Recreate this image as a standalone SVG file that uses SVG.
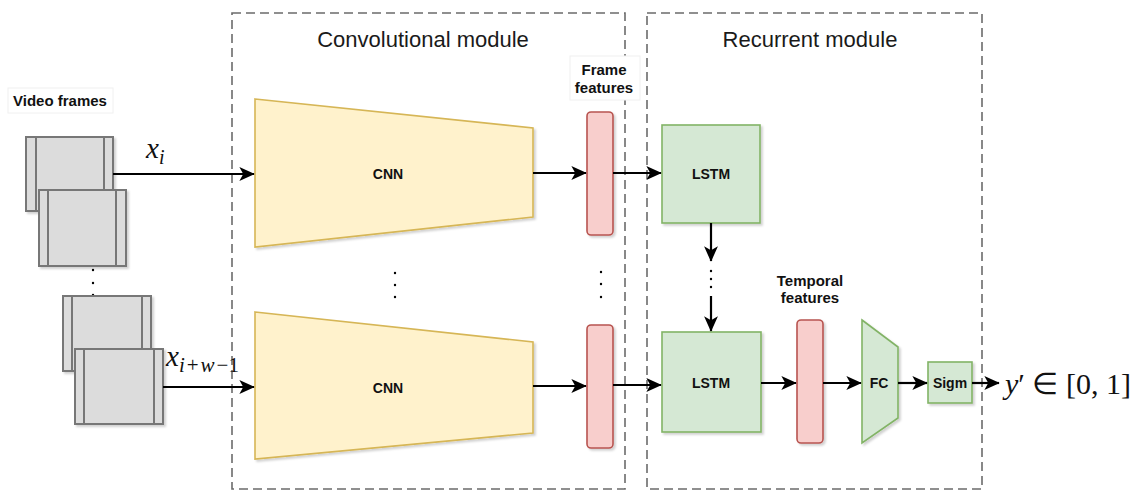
<svg xmlns="http://www.w3.org/2000/svg" width="1141" height="491" viewBox="0 0 1141 491">
  <style>
    .module { fill: none; stroke: #6b6b6b; stroke-width: 1.6; stroke-dasharray: 9 5; }
    .title { font-family: "Liberation Sans", Arial, sans-serif; font-size: 22px; fill: #1a1a1a; text-anchor: middle; }
    .lbl { font-family: "Liberation Sans", Arial, sans-serif; font-size: 14px; font-weight: bold; fill: #111111; text-anchor: middle; }
    .cap { font-family: "Liberation Sans", Arial, sans-serif; font-size: 15px; font-weight: bold; fill: #111111; text-anchor: middle; }
    .lblbg { fill: #ffffff; stroke: #f0f0f0; stroke-width: 1; }
    .frame { fill: #dcdcdc; stroke: #777777; stroke-width: 2; }
    .frameline { stroke: #777777; stroke-width: 2; }
    .cnn { fill: #fff2cc; stroke: #d6b656; stroke-width: 1.6; }
    .feat { fill: #f8cecc; stroke: #b85450; stroke-width: 1.6; }
    .green { fill: #d5e8d4; stroke: #82b366; stroke-width: 1.6; }
    .conn { stroke: #000000; stroke-width: 2.2; fill: none; }
    .dot { fill: #000000; }
    .math { font-family: "Liberation Serif", "Times New Roman", serif; fill: #111111; }
  </style>
  <defs>
    <marker id="arrow" viewBox="0 0 10 10" refX="9.5" refY="5" markerWidth="7" markerHeight="7" orient="auto" markerUnits="strokeWidth">
      <path d="M0,0.5 L10,5 L0,9.5 L2.5,5 z" fill="#000000"/>
    </marker>
    <filter id="shadow" x="-10%" y="-10%" width="130%" height="130%">
      <feDropShadow dx="2" dy="2" stdDeviation="1.2" flood-color="#000000" flood-opacity="0.18"/>
    </filter>
  </defs>

  <rect width="1141" height="491" fill="#ffffff"/>

  <!-- module borders -->
  <g id="convolutional-module">
    <rect class="module" x="232" y="13" width="393" height="476"/>
    <text class="title" x="423" y="47">Convolutional module</text>
  </g>
  <g id="recurrent-module">
    <rect class="module" x="647" y="13" width="335" height="476"/>
    <text class="title" x="810" y="47">Recurrent module</text>
  </g>

  <!-- input frames -->
  <g id="video-frames-label">
    <rect class="lblbg" x="8" y="88" width="105" height="25"/>
    <text class="cap" x="60" y="106">Video frames</text>
  </g>
  <g id="frames-top" filter="url(#shadow)">
    <rect class="frame" x="26" y="137" width="87" height="74"/>
    <line class="frameline" x1="36" y1="137" x2="36" y2="211"/>
    <line class="frameline" x1="104" y1="137" x2="104" y2="211"/>
    <rect class="frame" x="39" y="190" width="87" height="76"/>
    <line class="frameline" x1="48" y1="190" x2="48" y2="266"/>
    <line class="frameline" x1="116" y1="190" x2="116" y2="266"/>
  </g>
  <g id="frames-dots">
    <circle class="dot" cx="93" cy="270" r="1.2"/>
    <circle class="dot" cx="93" cy="283" r="1.2"/>
    <circle class="dot" cx="93" cy="295" r="1.2"/>
  </g>
  <g id="frames-bottom" filter="url(#shadow)">
    <rect class="frame" x="63" y="296" width="88" height="75"/>
    <line class="frameline" x1="72" y1="296" x2="72" y2="371"/>
    <line class="frameline" x1="142" y1="296" x2="142" y2="371"/>
    <rect class="frame" x="75" y="349" width="88" height="75"/>
    <line class="frameline" x1="84" y1="349" x2="84" y2="424"/>
    <line class="frameline" x1="154" y1="349" x2="154" y2="424"/>
  </g>

  <!-- CNN encoders -->
  <g id="cnn-top">
    <polygon class="cnn" filter="url(#shadow)" points="255,99 533,128 533,217 255,247"/>
    <text class="lbl" x="388" y="179">CNN</text>
  </g>
  <g id="cnn-dots">
    <circle class="dot" cx="395" cy="273" r="1.2"/>
    <circle class="dot" cx="395" cy="285" r="1.2"/>
    <circle class="dot" cx="395" cy="297" r="1.2"/>
  </g>
  <g id="cnn-bottom">
    <polygon class="cnn" filter="url(#shadow)" points="255,312 533,342 533,433 255,459"/>
    <text class="lbl" x="388" y="393">CNN</text>
  </g>

  <!-- frame feature vectors -->
  <g id="frame-features-label">
    <rect class="lblbg" x="570" y="56" width="70" height="44"/>
    <text class="cap" x="604" y="75">Frame</text>
    <text class="cap" x="604" y="93">features</text>
  </g>
  <g id="frame-features-top">
    <rect class="feat" filter="url(#shadow)" x="587" y="112" width="26" height="123" rx="4"/>
  </g>
  <g id="feature-dots">
    <circle class="dot" cx="601" cy="272" r="1.2"/>
    <circle class="dot" cx="601" cy="284" r="1.2"/>
    <circle class="dot" cx="601" cy="297" r="1.2"/>
  </g>
  <g id="frame-features-bottom">
    <rect class="feat" filter="url(#shadow)" x="587" y="325" width="26" height="123" rx="4"/>
  </g>

  <!-- recurrent part -->
  <g id="lstm-top">
    <rect class="green" filter="url(#shadow)" x="662" y="125" width="98" height="98"/>
    <text class="lbl" x="711" y="179">LSTM</text>
  </g>
  <g id="lstm-dots">
    <circle class="dot" cx="711" cy="271" r="1.2"/>
    <circle class="dot" cx="711" cy="279" r="1.2"/>
    <circle class="dot" cx="711" cy="287" r="1.2"/>
  </g>
  <g id="lstm-bottom">
    <rect class="green" filter="url(#shadow)" x="662" y="332" width="99" height="100"/>
    <text class="lbl" x="711" y="388">LSTM</text>
  </g>
  <g id="temporal-features-label">
    <text class="cap" x="810" y="286">Temporal</text>
    <text class="cap" x="810" y="303">features</text>
  </g>
  <g id="temporal-features">
    <rect class="feat" filter="url(#shadow)" x="797" y="320" width="26" height="123" rx="4"/>
  </g>
  <g id="fc">
    <polygon class="green" filter="url(#shadow)" points="862,320 898,347 898,418 862,443"/>
    <text class="lbl" x="879" y="388">FC</text>
  </g>
  <g id="sigm">
    <rect class="green" filter="url(#shadow)" x="928" y="362" width="44" height="41"/>
    <text class="lbl" x="950" y="388">Sigm</text>
  </g>

  <!-- math labels -->
  <g id="input-labels">
    <text class="math" x="146" y="158" font-size="29" font-style="italic">x<tspan font-size="20" dy="6">i</tspan></text>
    <text class="math" x="166" y="366" font-size="29" font-style="italic">x<tspan font-size="21" dy="6">i</tspan><tspan font-size="21" font-style="normal" dx="2">+</tspan><tspan font-size="21" dx="2">w</tspan><tspan font-size="21" font-style="normal" dx="2">−1</tspan></text>
  </g>
  <g id="output-label">
    <text class="math" x="1005" y="394" font-size="30"><tspan font-style="italic">y</tspan>′ ∈ [0, 1]</text>
  </g>

  <!-- connectors -->
  <g id="connectors">
    <line class="conn" x1="113" y1="174" x2="254" y2="174" marker-end="url(#arrow)"/>
    <line class="conn" x1="163" y1="387" x2="254" y2="387" marker-end="url(#arrow)"/>
    <line class="conn" x1="533" y1="173" x2="586" y2="173" marker-end="url(#arrow)"/>
    <line class="conn" x1="533" y1="386" x2="586" y2="386" marker-end="url(#arrow)"/>
    <line class="conn" x1="613" y1="173" x2="661" y2="173" marker-end="url(#arrow)"/>
    <line class="conn" x1="613" y1="385" x2="661" y2="385" marker-end="url(#arrow)"/>
    <line class="conn" x1="711" y1="223" x2="711" y2="261" marker-end="url(#arrow)"/>
    <line class="conn" x1="711" y1="296" x2="711" y2="331" marker-end="url(#arrow)"/>
    <line class="conn" x1="761" y1="383" x2="796" y2="383" marker-end="url(#arrow)"/>
    <line class="conn" x1="823" y1="383" x2="861" y2="383" marker-end="url(#arrow)"/>
    <line class="conn" x1="898" y1="383" x2="927" y2="383" marker-end="url(#arrow)"/>
    <line class="conn" x1="972" y1="383" x2="999" y2="383" marker-end="url(#arrow)"/>
  </g>
</svg>
